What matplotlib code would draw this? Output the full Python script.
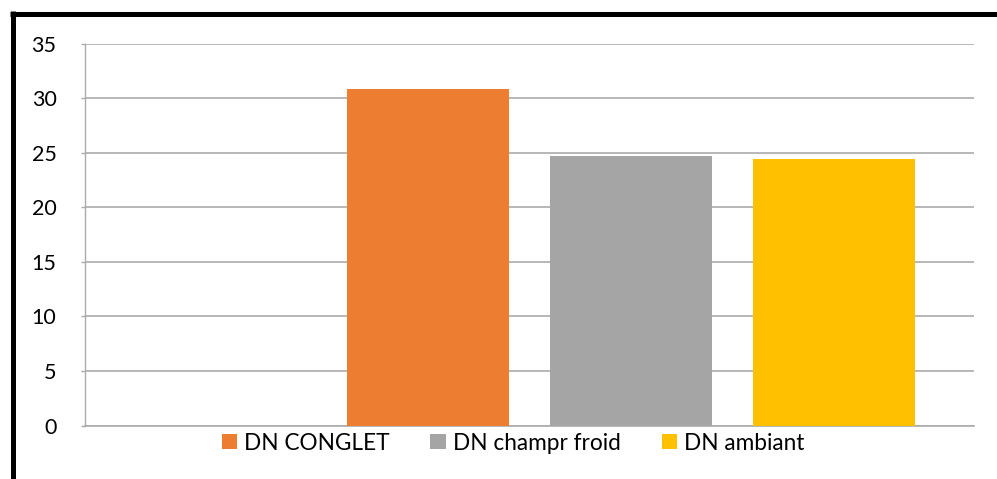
import matplotlib
matplotlib.use("Agg")
import matplotlib.pyplot as plt
from matplotlib.patches import Patch
from matplotlib.lines import Line2D

# Data: one category, four series slots (first slot left empty)
series_names = ["DN CONGLET", "DN champr froid", "DN ambiant"]
series_values = [30.8, 24.7, 24.4]
series_colors = ["#ED7D31", "#A5A5A5", "#FFC000"]
slot_of_series = [1, 2, 3]
n_slots = 4
y_ticks = [0, 5, 10, 15, 20, 25, 30, 35]

plt.rcParams["font.family"] = ["Lato", "DejaVu Sans"]

W, H, DPI = 997, 479, 100
fig = plt.figure(figsize=(W / DPI, H / DPI), dpi=DPI)
fig.patch.set_facecolor("white")

ax_l, ax_r, ax_t, ax_b = 85, 974, 43.5, 425.5
ax = fig.add_axes([ax_l / W, 1 - ax_b / H, (ax_r - ax_l) / W, (ax_b - ax_t) / H])

# clustered-bar geometry: overlap -25 %, gap width ~73 %
overlap = -0.25
gap = 0.73
span = n_slots + (n_slots - 1) * (-overlap) + gap
bar_w = 1.0 / span
step = bar_w * (1 - overlap)
first_center = -((n_slots - 1) * step) / 2

for name, val, col, slot in zip(series_names, series_values, series_colors, slot_of_series):
    ax.bar(first_center + slot * step, val, width=bar_w, color=col, label=name, zorder=3)

ax.set_xlim(-0.5, 0.5)
ax.set_ylim(0, 35)
ax.set_yticks(y_ticks)
ax.set_xticks([])
grid_c = "#ABABAB"
ax.yaxis.grid(True, color=grid_c, linewidth=1.2, zorder=0)
for s in ["top", "right"]:
    ax.spines[s].set_visible(False)
ax.spines["left"].set_color(grid_c)
ax.spines["bottom"].set_color(grid_c)
ax.spines["left"].set_linewidth(1.0)
ax.spines["bottom"].set_linewidth(1.2)
ax.tick_params(axis="y", length=3, width=1, color=grid_c, labelsize=15.5, pad=17.5, labelcolor="black")
for lbl in ax.get_yticklabels():
    lbl.set_horizontalalignment("right")

handles = [Patch(facecolor=c, edgecolor="none") for c in series_colors]
fig.legend(handles, series_names, loc="center", ncol=3, frameon=False,
           bbox_to_anchor=(513 / W, 1 - 443 / H), fontsize=16.3,
           handlelength=0.67, handleheight=0.67, handletextpad=0.32,
           columnspacing=1.8, borderpad=0)

# thick outer frame along the left and top edges
frame_lw = 5 * 72 / DPI
fig.add_artist(Line2D([12.5 / W, 12.5 / W], [0, 1 - 11 / H], transform=fig.transFigure,
                      color="black", linewidth=frame_lw, solid_capstyle="butt"))
fig.add_artist(Line2D([10 / W, 1], [1 - 14 / H, 1 - 14 / H], transform=fig.transFigure,
                      color="black", linewidth=frame_lw, solid_capstyle="butt"))

fig.savefig("out.png", dpi=DPI)
